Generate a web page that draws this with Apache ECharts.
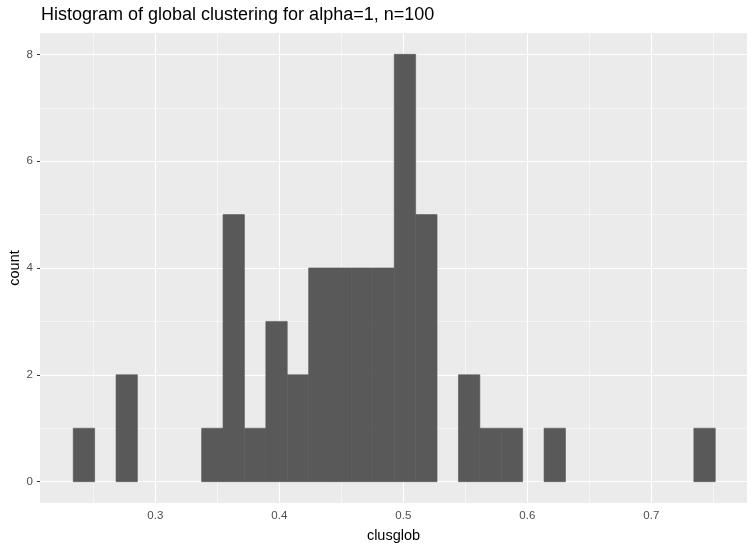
<!DOCTYPE html>
<html>
<head>
<meta charset="utf-8">
<script src="https://cdn.jsdelivr.net/npm/echarts@6/dist/echarts.min.js"></script>
<style>
  html, body { margin: 0; padding: 0; background: #fff; }
  #chart { width: 754px; height: 550px; }
</style>
</head>
<body>
<div id="chart"></div>
<script>
// histogram bins (30 bins, ggplot default)
const binStart = 0.2338
const binWidth = 0.01726
const counts = [1, 0, 2, 0, 0, 0, 1, 5, 1, 3, 2, 4, 4, 4, 4, 8, 5, 0, 2, 1, 1, 0, 1, 0, 0, 0, 0, 0, 0, 1]

const xTicks = [0.3, 0.4, 0.5, 0.6, 0.7]
const xMinor = [0.25, 0.35, 0.45, 0.55, 0.65, 0.75]
const yTicks = [0, 2, 4, 6, 8]
const yMinor = [1, 3, 5, 7]

const bins = counts.map((c, i) => [binStart + i * binWidth, binStart + (i + 1) * binWidth, c])

const chart = echarts.init(document.getElementById('chart'), null, { renderer: 'canvas' })

const gridLines = []
xMinor.forEach(v => gridLines.push({ xAxis: v, lineStyle: { width: 0.55 } }))
yMinor.forEach(v => gridLines.push({ yAxis: v, lineStyle: { width: 0.55 } }))
xTicks.forEach(v => gridLines.push({ xAxis: v, lineStyle: { width: 1.1 } }))
yTicks.forEach(v => gridLines.push({ yAxis: v, lineStyle: { width: 1.1 } }))

const option = {
  animation: false,
  textStyle: { fontFamily: 'Liberation Sans, Arial, sans-serif' },
  title: {
    text: 'Histogram of global clustering for alpha=1, n=100',
    left: 36,
    top: 1,
    textStyle: { color: '#000', fontSize: 18, fontWeight: 'normal', fontFamily: 'Liberation Sans, Arial, sans-serif' }
  },
  grid: {
    left: 40,
    right: 7,
    top: 33,
    bottom: 47,
    outerBoundsMode: 'none',
    containLabel: false,
    show: true,
    backgroundColor: '#EBEBEB',
    borderWidth: 0
  },
  xAxis: {
    type: 'value',
    min: 0.2070,
    max: 0.7772,
    name: 'clusglob',
    nameLocation: 'middle',
    nameGap: 25,
    nameMoveOverlap: false,
    nameTextStyle: { color: '#000', fontSize: 14.5, verticalAlign: 'top' },
    axisLine: { show: false },
    axisTick: { show: true, length: 3, lineStyle: { color: '#333', width: 1 }, customValues: xTicks },
    axisLabel: {
      color: '#4D4D4D', fontSize: 11.5, margin: 7,
      customValues: xTicks,
      formatter: v => v.toFixed(1)
    },
    splitLine: { show: false }
  },
  yAxis: {
    type: 'value',
    min: -0.4,
    max: 8.4,
    name: 'count',
    nameLocation: 'middle',
    nameGap: 18,
    nameMoveOverlap: false,
    nameTextStyle: { color: '#000', fontSize: 14.5 },
    axisLine: { show: false },
    axisTick: { show: true, length: 3, lineStyle: { color: '#333', width: 1 }, customValues: yTicks },
    axisLabel: { color: '#4D4D4D', fontSize: 11.5, margin: 7, customValues: yTicks },
    splitLine: { show: false }
  },
  series: [
    {
      type: 'line',
      data: [],
      z: 1,
      silent: true,
      markLine: {
        silent: true,
        z: 1,
        symbol: ['none', 'none'],
        label: { show: false },
        lineStyle: { color: '#FFFFFF', type: 'solid' },
        emphasis: { disabled: true },
        data: gridLines
      }
    },
    {
      type: 'custom',
      z: 3,
      data: bins,
      encode: { x: [0, 1], y: 2 },
      renderItem: function (params, api) {
        if (!api.value(2)) return null
        const p0 = api.coord([api.value(0), api.value(2)])
        const p1 = api.coord([api.value(1), 0])
        return {
          type: 'rect',
          shape: { x: p0[0], y: p0[1], width: p1[0] - p0[0], height: p1[1] - p0[1] },
          style: { fill: '#595959', stroke: '#595959', lineWidth: 0.6 }
        }
      }
    }
  ]
}

chart.setOption(option)
</script>
</body>
</html>
